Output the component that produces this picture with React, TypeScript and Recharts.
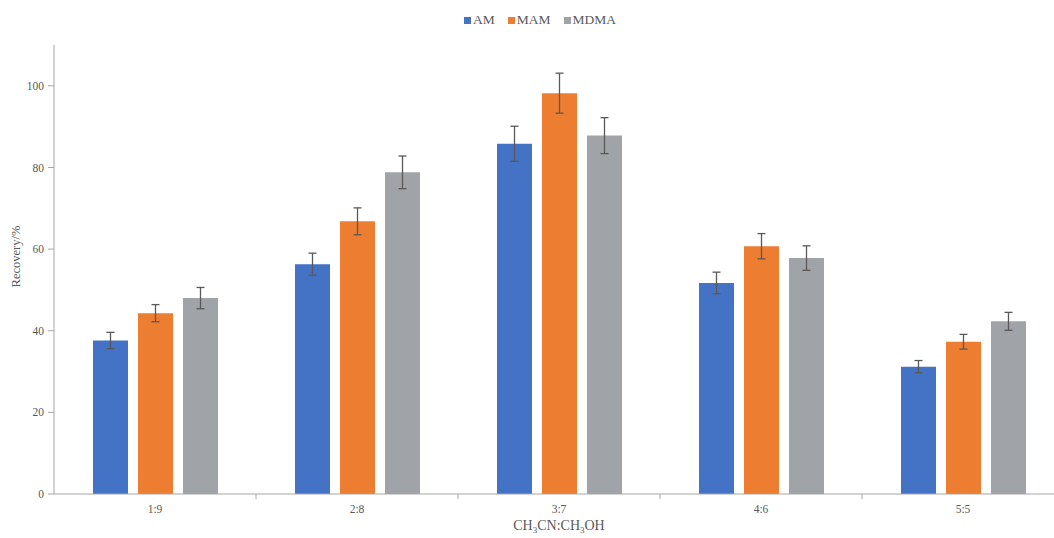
import React from 'react';
import { BarChart, Bar, XAxis, YAxis, ErrorBar, Legend } from 'recharts';

const categories = ['1:9', '2:8', '3:7', '4:6', '5:5'];
const amValues = [37.6, 56.3, 85.8, 51.7, 31.2];
const mamValues = [44.3, 66.8, 98.2, 60.7, 37.3];
const mdmaValues = [48.0, 78.8, 87.8, 57.8, 42.3];
const amErrors = [2.0, 2.7, 4.3, 2.65, 1.5];
const mamErrors = [2.1, 3.3, 4.9, 3.1, 1.8];
const mdmaErrors = [2.6, 4.0, 4.4, 3.0, 2.2];
const yTicks = [0, 20, 40, 60, 80, 100];

const seriesNames = ['AM', 'MAM', 'MDMA'];
const colors = ['#4472C4', '#ED7D31', '#A0A3A7'];

const data = categories.map((c, i) => ({
  name: c,
  AM: amValues[i],
  MAM: mamValues[i],
  MDMA: mdmaValues[i],
  amErr: amErrors[i],
  mamErr: mamErrors[i],
  mdmaErr: mdmaErrors[i],
}));

const FONT = '"Liberation Serif", "Times New Roman", serif';
const TEXT = '#595959';
const AXIS = '#A6A6A6';

const XTick = (props: any) => {
  const { x, y, payload, index } = props;
  const half = payload && payload.offset ? payload.offset : 101;
  return (
    <g>
      {index > 0 && (
        <line x1={x - half} x2={x - half} y1={y - 8} y2={y - 3} stroke={AXIS} strokeWidth={1} />
      )}
      <text x={x} y={y + 11} textAnchor="middle" fill={TEXT} fontSize={11.5} fontFamily={FONT}>
        {payload.value}
      </text>
    </g>
  );
};

const XLabel = (props: any) => {
  const vb = props.viewBox || { x: 54, y: 494, width: 1010, height: 44 };
  const cx = vb.x + vb.width / 2;
  const cy = vb.y + vb.height - 8;
  return (
    <text x={cx} y={cy} textAnchor="middle" fill={TEXT} fontSize={14} fontFamily={FONT}>
      <tspan>CH</tspan>
      <tspan fontSize={9} dy={3}>3</tspan>
      <tspan dy={-3}>CN:CH</tspan>
      <tspan fontSize={9} dy={3}>3</tspan>
      <tspan dy={-3}>OH</tspan>
    </text>
  );
};

const YLabel = (props: any) => {
  const vb = props.viewBox || { x: 0, y: 45, width: 54, height: 449 };
  const cx = vb.x + 16;
  const cy = vb.y + vb.height / 2 - 13;
  return (
    <text
      x={cx}
      y={cy}
      transform={`rotate(-90, ${cx}, ${cy})`}
      textAnchor="middle"
      dominantBaseline="central"
      fill={TEXT}
      fontSize={12.5}
      fontFamily={FONT}
    >
      Recovery/%
    </text>
  );
};

const LegendContent = () => (
  <div style={{ display: 'flex', justifyContent: 'center', fontFamily: FONT, fontSize: 13.5, color: TEXT }}>
    {seriesNames.map((n, i) => (
      <div key={n} style={{ display: 'flex', alignItems: 'center', marginRight: i < 2 ? 13 : 0 }}>
        <span style={{ display: 'inline-block', width: 7, height: 7, background: colors[i], marginRight: 2 }} />
        <span>{n}</span>
      </div>
    ))}
  </div>
);

export default function App() {
  return (
    <div style={{ position: 'absolute', left: 0, top: 0, width: 1054, height: 538, overflow: 'hidden', background: '#fff' }}>
      <BarChart
        width={1080}
        height={538}
        data={data}
        margin={{ top: 45, right: 16, bottom: 0, left: 0 }}
        barSize={35}
        barGap={10}
      >
        <Legend
          verticalAlign="middle"
          align="center"
          wrapperStyle={{ top: 12, left: 0, width: 1080 }}
          content={<LegendContent />}
        />
        <XAxis
          dataKey="name"
          height={44}
          stroke={AXIS}
          tickLine={false}
          tick={<XTick />}
          interval={0}
          label={<XLabel />}
        />
        <YAxis
          width={54}
          domain={[0, 110]}
          ticks={yTicks}
          interval={0}
          stroke={AXIS}
          tickSize={6}
          tickMargin={4}
          tick={{ fill: TEXT, fontSize: 11.5, fontFamily: FONT }}
          label={<YLabel />}
        />
        <Bar dataKey="AM" fill={colors[0]} isAnimationActive={false}>
          <ErrorBar dataKey="amErr" width={4} stroke="#595959" strokeWidth={1.3} direction="y" />
        </Bar>
        <Bar dataKey="MAM" fill={colors[1]} isAnimationActive={false}>
          <ErrorBar dataKey="mamErr" width={4} stroke="#595959" strokeWidth={1.3} direction="y" />
        </Bar>
        <Bar dataKey="MDMA" fill={colors[2]} isAnimationActive={false}>
          <ErrorBar dataKey="mdmaErr" width={4} stroke="#595959" strokeWidth={1.3} direction="y" />
        </Bar>
      </BarChart>
    </div>
  );
}
